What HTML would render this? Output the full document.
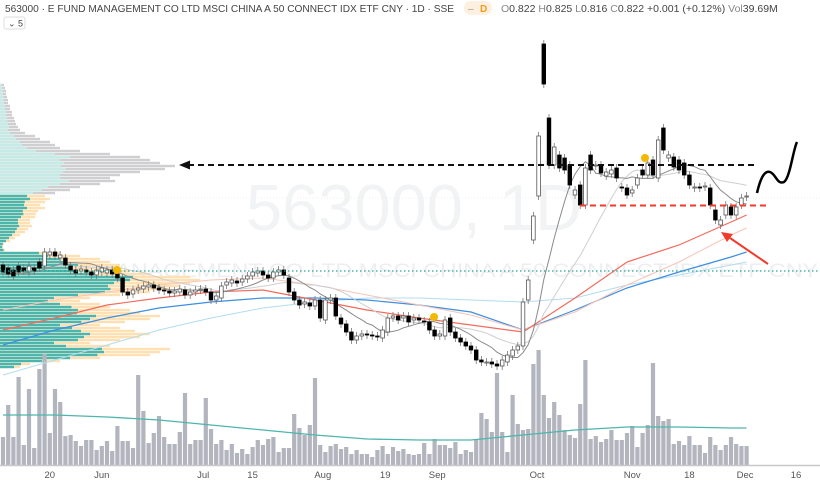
<!DOCTYPE html>
<html><head><meta charset="utf-8"><style>
html,body{margin:0;padding:0;background:#fff;width:820px;height:481px;overflow:hidden}
svg{display:block;font-family:"Liberation Sans",sans-serif}
</style></head><body>
<svg id="chart" width="820" height="481" viewBox="0 0 820 481">
<line x1="0" y1="198" x2="820" y2="198" stroke="#eee" stroke-dasharray="1,2"/>
<text x="246" y="230" font-size="65" fill="#f1f3f4">563000, 1D</text>
<text x="3" y="277" font-size="19" fill="#eceef0" textLength="815" lengthAdjust="spacingAndGlyphs">E FUND MANAGEMENT CO LTD MSCI CHINA A 50 CONNECT IDX ETF CNY</text>
<g id="profile"></g>
<g id="vol"></g>
<g id="ma"></g>
<g id="candles"></g>
<line x1="0" y1="271" x2="820" y2="271" stroke="#26a69a" stroke-width="1.3" stroke-dasharray="1.5,2.5"/>
<line x1="188" y1="165" x2="757" y2="165" stroke="#111" stroke-width="2" stroke-dasharray="6,4"/>
<polygon points="179,165 190,160.5 190,169.5" fill="#111"/>
<line x1="580" y1="205.5" x2="768" y2="205.5" stroke="#f23a2a" stroke-width="2" stroke-dasharray="6,4"/>
<path d="M757,193 C760,180 764,170 770,172 C776,174 777,185 784,182 C790,178 793,150 797,142" fill="none" stroke="#000" stroke-width="2.5"/>
<line x1="768" y1="264" x2="730" y2="238" stroke="#f23a2a" stroke-width="2"/>
<polygon points="721,232 733,234 727,242" fill="#f23a2a"/>
<circle cx="117" cy="270" r="4" fill="#f5b800"/>
<circle cx="434" cy="317" r="4" fill="#f5b800"/>
<circle cx="645" cy="158" r="4" fill="#f5b800"/>
<line x1="0" y1="465.5" x2="820" y2="465.5" stroke="#c8c8cc" stroke-width="1.5"/>
<g id="xaxis"></g>
<text x="5" y="12" font-size="10.5" fill="#444" textLength="449" lengthAdjust="spacingAndGlyphs">563000 · E FUND MANAGEMENT CO LTD MSCI CHINA A 50 CONNECT IDX ETF CNY · 1D · SSE</text>
<rect x="464" y="1" width="28" height="14" rx="7" fill="#fdf0e0"/>
<text x="468" y="12" font-size="10" fill="#999">–</text>
<text x="480" y="12" font-size="10" fill="#f39c12" font-weight="bold">D</text>
<text x="501" y="12" font-size="10.5" fill="#444"><tspan fill="#888">O</tspan>0.822 <tspan fill="#888">H</tspan>0.825 <tspan fill="#888">L</tspan>0.816 <tspan fill="#888">C</tspan>0.822 +0.001 (+0.12%) <tspan fill="#888">Vol</tspan>39.69M</text>
<rect x="4" y="17" width="21" height="12" rx="2" fill="#fff" stroke="#ddd"/>
<text x="8" y="26.5" font-size="9" fill="#444">⌄ 5</text>
</svg>
<script>
const opens=[.762,.759,.757,.761,.759,.755,.759,.765,.761,.772,.775,.769,.769,.761,.757,.756,.757,.755,.752,.755,.754,.757,.753,.749,.735,.733,.737,.738,.740,.742,.739,.737,.736,.734,.735,.737,.732,.735,.737,.738,.735,.727,.729,.742,.744,.746,.745,.748,.751,.754,.756,.752,.749,.755,.757,.749,.735,.727,.723,.724,.721,.727,.707,.727,.729,.709,.703,.695,.687,.691,.693,.692,.691,.689,.695,.709,.711,.709,.711,.707,.709,.706,.705,.697,.691,.691,.709,.695,.689,.685,.681,.677,.667,.665,.665,.663,.661,.665,.671,.677,.681,.727,.787,.831,.983,.909,.862,.872,.869,.862,.832,.842,.822,.872,.861,.862,.851,.853,.859,.840,.839,.834,.842,.857,.852,.867,.849,.899,.869,.870,.867,.864,.852,.839,.840,.840,.839,.817,.802,.812,.820,.812,.822,.830];
const closes=[.755,.753,.751,.755,.756,.761,.756,.759,.775,.775,.771,.772,.762,.757,.754,.758,.755,.752,.757,.759,.757,.753,.749,.735,.732,.737,.739,.741,.742,.739,.737,.736,.734,.736,.738,.732,.735,.737,.738,.735,.727,.731,.741,.745,.747,.744,.748,.751,.755,.756,.752,.749,.755,.757,.752,.735,.727,.722,.725,.721,.727,.709,.727,.729,.711,.703,.695,.687,.691,.693,.692,.691,.690,.697,.709,.711,.707,.711,.705,.709,.707,.705,.697,.691,.693,.707,.695,.689,.685,.681,.677,.667,.665,.665,.663,.661,.667,.672,.677,.681,.725,.747,.811,.891,.943,.862,.880,.859,.857,.842,.837,.822,.859,.857,.862,.854,.855,.857,.849,.839,.832,.837,.849,.852,.864,.852,.887,.877,.872,.860,.857,.852,.842,.840,.839,.841,.822,.807,.807,.822,.812,.820,.829,.831];
const volumes=[28,60,28,88,20,76,17,96,111,32,76,63,29,30,24,19,25,25,15,19,24,14,39,24,24,17,90,54,22,32,49,28,21,21,33,72,21,25,25,67,36,21,25,15,21,12,16,11,18,25,20,26,28,13,17,17,51,37,30,40,87,20,13,19,21,16,18,11,15,11,11,8,15,19,11,18,14,16,11,10,11,22,11,26,20,20,17,23,11,15,13,25,52,46,33,92,33,13,70,41,35,36,101,115,70,47,63,50,35,30,27,61,105,26,29,23,26,35,25,25,32,39,18,32,40,102,49,44,46,21,24,20,29,20,20,12,28,20,15,20,28,21,19,19];
const maIdx=[0,10,20,30,40,50,60,70,80,90,100,110,120,130,140,143];
const maRed=[.697,.709,.722,.729,.735,.737,.727,.717,.709,.702,.695,.729,.765,.782,.805,.812];
const maPink=[.717,.727,.735,.742,.747,.749,.742,.732,.722,.712,.697,.715,.742,.765,.792,.799];
const maBlue=[.682,.697,.709,.719,.725,.729,.729,.727,.722,.715,.697,.717,.739,.755,.770,.775];
const maLightBlue=[.652,.667,.682,.697,.709,.719,.725,.729,.729,.727,.725,.729,.742,.752,.762,.765];
const volMa=[50,50,48,45,40,35,30,26,25,25,30,35,38,38,37,37];
const profTotal=[4,5,6,6,7,8,8,10,10,12,12,14,15,16,18,20,25,35,40,50,55,60,80,110,140,150,160,175,165,140,120,110,115,100,80,70,55,45,50,45,40,45,38,36,35,30,30,32,28,25,20,15,10,4,3,5,60,80,100,110,120,115,130,150,190,200,190,180,170,150,120,90,80,100,110,130,140,160,150,125,100,120,135,150,140,120,90,110,170,160,150,100,60,30,20];
const profUpShare=[.5,.5,.5,.5,.5,.5,.5,.5,.5,.5,.5,.5,.5,.5,.5,.4,.4,.4,.4,.4,.4,.45,.45,.5,.5,.4,.4,.35,.4,.45,.5,.55,.6,.6,.6,.6,.6,.6,.6,.55,.6,.6,.6,.65,.6,.6,.6,.6,.6,.6,.6,.6,.6,.7,.7,.7,.65,.6,.6,.6,.65,.6,.6,.65,.7,.65,.6,.6,.65,.7,.65,.6,.6,.6,.65,.6,.55,.6,.6,.65,.6,.6,.6,.6,.6,.65,.6,.6,.6,.65,.65,.7,.7,.7,.7];
const profTop=0.942, profStep=0.003, vaTop=0.832;
const xTicks=["20","Jun","Jul","15","Aug","19","Sep","Oct","Nov","18","Dec","16"];
const xTickBars=[9,19,38.5,48,61.5,73.5,83.5,102.7,121,132,142.7,152.5];

const NS="http://www.w3.org/2000/svg";
function el(t,a,p){const e=document.createElementNS(NS,t);for(const k in a)e.setAttribute(k,a[k]);p.appendChild(e);return e;}
const xOf=i=>3+i*5.2;
const yP=p=>205-(p-0.822)*1000;
const yV=v=>465-v;
const gC=document.getElementById('candles'),gM=document.getElementById('ma'),gV=document.getElementById('vol'),gP=document.getElementById('profile'),gX=document.getElementById('xaxis');

for(let r=0;r<profTotal.length;r++){
  const price=profTop-r*profStep;const y=yP(price);
  const inVA=price<vaTop;
  const up=profTotal[r]*profUpShare[r];
  const b1=el('rect',{x:0,y:y-1.2,width:profTotal[r],height:2.4,fill:inVA?'#ffe0b2':'#cfcfd2'},gP);
  
  
  const b2=el('rect',{x:0,y:y-1.2,width:up,height:2.4,fill:inVA?'#4db6ac':'#c6ebe6'},gP);
  
  
}
volumes.forEach((v,i)=>{
  const r=el('rect',{x:xOf(i)-2.1,y:yV(v),width:4.2,height:v,fill:'#b2b5be'},gV);
  
  
});
const vm=el('polyline',{points:maIdx.map((b,k)=>xOf(b)+','+yV(volMa[k])).join(' '),fill:'none',stroke:'#4db6ac','stroke-width':1.3},gV);


function sampled(arr,color,w,name){
  const l=el('polyline',{points:maIdx.map((b,k)=>xOf(b)+','+yP(arr[k])).join(' '),fill:'none',stroke:color,'stroke-width':w},gM);
  
  
}
sampled(maLightBlue,'#b3dcef',1,'ma-light-blue');
sampled(maBlue,'#3d8fe0',1.2,'ma-blue');
sampled(maPink,'#f8c4b8',1,'ma-pink');
sampled(maRed,'#f26b5b',1.2,'ma-red');
function sma(n){return closes.map((c,i)=>{const s=Math.max(0,i-n+1);let t=0;for(let j=s;j<=i;j++)t+=closes[j];return t/(i-s+1);});}
[[sma(20),'#cfcfcf','ma-light-gray'],[sma(10),'#8a8a8a','ma-dark-gray']].forEach(([a,c,n])=>{
  const l=el('polyline',{points:a.map((v,i)=>xOf(i)+','+yP(v)).join(' '),fill:'none',stroke:c,'stroke-width':1},gM);
  
  
});
opens.forEach((o,i)=>{
  const c=closes[i];const x=xOf(i);const up=c>=o;
  const top=yP(Math.max(o,c)),bot=yP(Math.min(o,c));
  const w=el('line',{x1:x,y1:top-4,x2:x,y2:bot+4,stroke:'#777','stroke-width':0.8},gC);
  
  
  const b=el('rect',{x:x-1.8,y:top,width:3.6,height:Math.max(1,bot-top),fill:up?'#fff':'#000',stroke:up?'#555':'#000','stroke-width':0.8},gC);
  
  
});
xTicks.forEach((t,k)=>{
  const tx=el('text',{x:xOf(xTickBars[k]),y:478,'font-size':9.5,fill:'#555','text-anchor':'middle'},gX);
  tx.textContent=t;
  
  
});
</script>
</body></html>
